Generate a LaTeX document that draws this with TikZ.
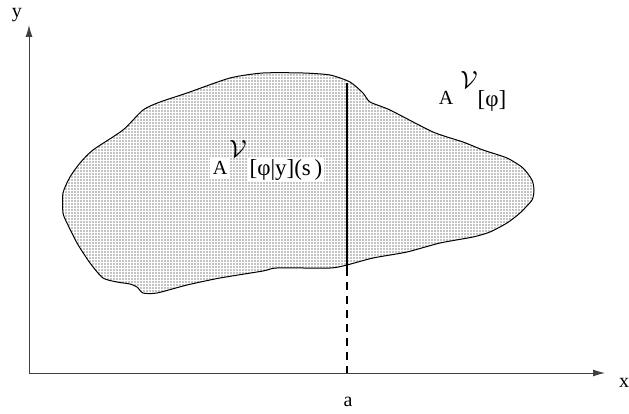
\documentclass[tikz,border=0pt]{standalone}
\usepackage{fontspec}
\setmainfont{Liberation Serif}
\usetikzlibrary{arrows.meta,patterns.meta}

\begin{document}
\begin{tikzpicture}[
  x=1pt,
  y=-1pt,
  line join=round,
  region/.style={draw=black,line width=1pt,pattern={Dots[distance=3pt,radius=0.55pt]},pattern color=black},
  axis/.style={draw=black!75,line width=0.9pt,-{Latex[length=12pt,width=7pt]}},
  cut/.style={draw=black,line width=2pt},
  guide/.style={draw=black,line width=1.8pt,dash pattern=on 8pt off 6pt},
  lbl/.style={inner sep=0pt,font=\fontsize{20}{22}\selectfont},
  sub/.style={inner sep=1.5pt,font=\fontsize{23}{26}\selectfont},
  set/.style={inner sep=0pt,font=\fontsize{30}{32}\selectfont}
]
  \useasboundingbox (0,0) rectangle (629,414);

  % Axes and the section abscissa.
  \coordinate (O) at (29,373);
  \coordinate (xend) at (605,373);
  \coordinate (yend) at (29,25);
  \coordinate (cuttop) at (347,83);
  \coordinate (cutbot) at (347,268);
  \coordinate (foot) at (347,373);

  % Dotted region.
  \draw[region] plot[smooth cycle,tension=0.4] coordinates {
    (63,193) (70,177) (80,163) (93,150) (123,130) (143,110) (160,102)
    (187,93) (230,78) (263,73) (303,73) (330,75) (350,82) (363,93)
    (370,102) (390,110) (433,132) (463,142) (483,150) (507,158)
    (523,168) (532,180) (534,190) (532,200) (520,213) (507,223)
    (490,232) (473,237) (440,243) (407,252) (373,258) (347,265)
    (330,268) (277,268) (263,271) (220,278) (187,285) (157,293)
    (143,293) (137,287) (130,284) (117,282) (103,278) (90,263)
    (77,243) (67,223) (63,213)};

  \draw[axis] (O) -- (xend);
  \draw[axis] (O) -- (yend);
  \node[lbl] (ylabel) at (17,15) {y};
  \node[lbl] (xlabel) at (624,383) {x};
  \node[lbl] (alabel) at (348,402) {a};

  % Section at x = a.
  \draw[cut] (cuttop) -- (cutbot);
  \draw[guide] (cutbot) -- (foot);

  % Set labels.
  \node[lbl] (outerA) at (446,98) {A};
  \node[set] (outerV) at (469,80) {$\mathcal{V}$};
  \node[sub] (outersub) at (492,101) {[φ]};

  \node[lbl,fill=white,inner sep=3pt] (innerA) at (220,168) {A};
  \node[set] (innerV) at (238,149) {$\mathcal{V}$};
  \node[sub,fill=white] (innersub) at (286,170) {[φ|y](s\,)};
\end{tikzpicture}
\end{document}
